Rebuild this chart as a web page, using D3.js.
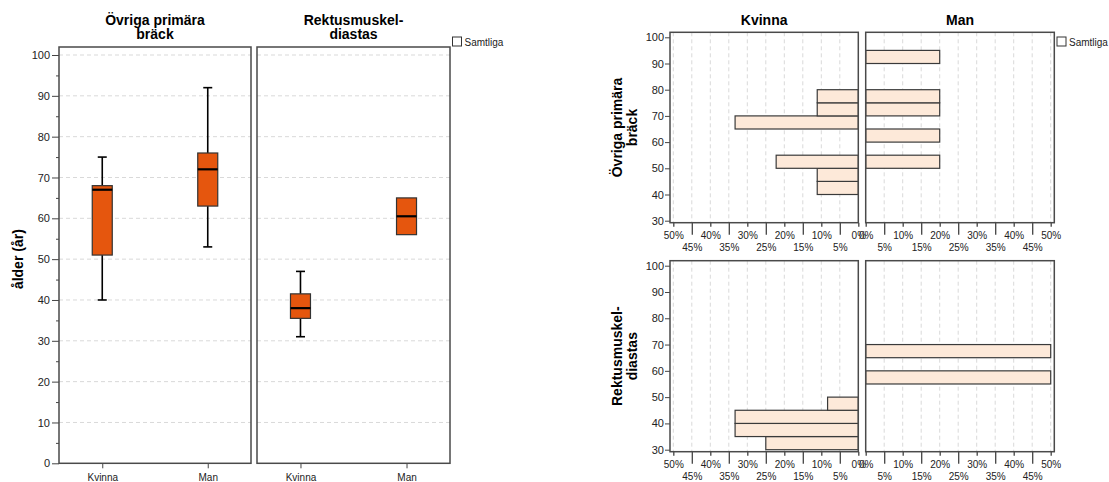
<!DOCTYPE html>
<html><head><meta charset="utf-8">
<script src="https://cdn.jsdelivr.net/npm/d3@7"></script>
<style>
body{margin:0;background:#fff;}
svg{font-family:Arial,"Liberation Sans",sans-serif;}
</style></head>
<body>
<svg id="c" width="1109" height="482"></svg>
<script>
// ---------- DATA ----------
const sexes = ["Kvinna", "Man"];
const groupTitles = [["Övriga primära", "bräck"], ["Rektusmuskel-", "diastas"]];
// Box plot statistics (ålder, år) per group, per sex [Kvinna, Man]
const whiskerLow  = [[40, 53], [31, 56]];
const q1          = [[51, 63], [35.5, 56]];
const medianAge   = [[67, 72], [38, 60.5]];
const q3          = [[68, 76], [41.5, 65]];
const whiskerHigh = [[75, 92], [47, 65]];
const boxTicks = [0,10,20,30,40,50,60,70,80,90,100];

// Histogram (5-year bins): bin start age and percentage
const binStartKvinna = [[40, 45, 50, 65, 70, 75], [30, 35, 40, 45]];
const pctKvinna      = [[11.1, 11.1, 22.2, 33.3, 11.1, 11.1], [25, 33.3, 33.3, 8.3]];
const binStartMan    = [[50, 60, 70, 75, 90], [55, 65]];
const pctMan         = [[20, 20, 20, 20, 20], [50, 50]];
const histAgeTicks = [30,40,50,60,70,80,90,100];
const pctTicks = [0,5,10,15,20,25,30,35,40,45,50];
const legendLabel = "Samtliga";

// ---------- STYLE ----------
const frameCol = "#4a4a4a", gridCol = "#d9d9d9";
const boxFill = "#e5560e", barFill = "#fde9d9";
const FF = "Arial,'Liberation Sans',sans-serif";

const svg = d3.select("#c");

// ================= LEFT: BOX PLOTS =================
const yL = d3.scaleLinear().domain([0, 100]).range([463.3, 55]);
const panelsL = [[59, 251], [257, 450]];
const frameTopL = 47, frameBotL = 463.3;

// y axis
const yAxisG = svg.append("g").attr("transform", `translate(59,0)`);
yAxisG.call(d3.axisLeft(yL).tickValues(boxTicks).tickSize(7).tickPadding(2).tickFormat(d3.format("d")));
yAxisG.select(".domain").remove();
yAxisG.selectAll("text").attr("font-size", 11).attr("fill", "#222").attr("font-family", FF);
yAxisG.selectAll("line").attr("stroke", "#444");
const yMinor = svg.append("g").attr("transform", `translate(59,0)`);
yMinor.call(d3.axisLeft(yL).tickValues(d3.range(5, 100, 10)).tickSize(3).tickFormat(""));
yMinor.select(".domain").remove();
yMinor.selectAll("line").attr("stroke", "#444");

svg.append("text")
  .attr("transform", `translate(23,${yL(50)}) rotate(-90)`)
  .attr("text-anchor", "middle").attr("font-size", 14).attr("font-weight", "bold")
  .text("ålder (år)");

panelsL.forEach((px, gi) => {
  const x = d3.scalePoint().domain(sexes).range(px).padding(0.41);
  const g = svg.append("g");
  // grid
  g.selectAll("line.grid").data(boxTicks.filter(d => d > 0)).join("line")
    .attr("x1", px[0]).attr("x2", px[1])
    .attr("y1", d => yL(d)).attr("y2", d => yL(d))
    .attr("stroke", gridCol).attr("stroke-dasharray", "4,3");
  // title
  groupTitles[gi].forEach((t, li) => {
    g.append("text").attr("x", (px[0] + px[1]) / 2).attr("y", 25 + li * 14)
      .attr("text-anchor", "middle").attr("font-size", 14).attr("font-weight", "bold").text(t);
  });
  // x axis
  const xa = g.append("g").attr("transform", `translate(0,${frameBotL})`)
    .call(d3.axisBottom(x).tickSize(5).tickPadding(6));
  xa.select(".domain").remove();
  xa.selectAll("text").attr("font-size", 10).attr("fill", "#222").attr("font-family", FF);
  xa.selectAll("line").attr("stroke", "#444");

  sexes.forEach((s, si) => {
    const cx = x(s), bw = 20, cw = 9;
    const wl = whiskerLow[gi][si], wh = whiskerHigh[gi][si];
    const a = q1[gi][si], b = q3[gi][si], m = medianAge[gi][si];
    if (wh > b) {
      g.append("line").attr("x1", cx).attr("x2", cx).attr("y1", yL(b)).attr("y2", yL(wh)).attr("stroke", "#000").attr("stroke-width", 1.6);
      g.append("line").attr("x1", cx - cw / 2).attr("x2", cx + cw / 2).attr("y1", yL(wh)).attr("y2", yL(wh)).attr("stroke", "#000").attr("stroke-width", 1.6);
    }
    if (wl < a) {
      g.append("line").attr("x1", cx).attr("x2", cx).attr("y1", yL(a)).attr("y2", yL(wl)).attr("stroke", "#000").attr("stroke-width", 1.6);
      g.append("line").attr("x1", cx - cw / 2).attr("x2", cx + cw / 2).attr("y1", yL(wl)).attr("y2", yL(wl)).attr("stroke", "#000").attr("stroke-width", 1.6);
    }
    g.append("rect").attr("x", cx - bw / 2).attr("y", yL(b)).attr("width", bw).attr("height", yL(a) - yL(b))
      .attr("fill", boxFill).attr("stroke", "#333").attr("stroke-width", 1.2);
    g.append("line").attr("x1", cx - bw / 2).attr("x2", cx + bw / 2).attr("y1", yL(m)).attr("y2", yL(m))
      .attr("stroke", "#000").attr("stroke-width", 2.2);
  });
  // frame
  g.append("rect").attr("x", px[0]).attr("y", frameTopL).attr("width", px[1] - px[0]).attr("height", frameBotL - frameTopL)
    .attr("fill", "none").attr("stroke", frameCol).attr("stroke-width", 1.5);
});

// legend
function legend(x, y) {
  svg.append("rect").attr("x", x).attr("y", y).attr("width", 9).attr("height", 9)
    .attr("fill", "#fff").attr("stroke", "#333").attr("stroke-width", 1);
  svg.append("text").attr("x", x + 12).attr("y", y + 8.5).attr("font-size", 10).attr("fill", "#222").text(legendLabel);
}
legend(452.5, 37);

// ================= RIGHT: HISTOGRAMS =================
const colsR = [[670, 858.3], [865.7, 1054.3]];
const rowsR = [[32.3, 222.7], [260.7, 451.7]];
const xK = d3.scaleLinear().domain([0, 50]).range([858.3, 673.3]);
const xM = d3.scaleLinear().domain([0, 50]).range([865.7, 1050.7]);
const xScales = [xK, xM];

sexes.forEach((s, ci) => {
  svg.append("text").attr("x", (colsR[ci][0] + colsR[ci][1]) / 2).attr("y", 25)
    .attr("text-anchor", "middle").attr("font-size", 14).attr("font-weight", "bold").text(s);
});

rowsR.forEach((ry, ri) => {
  const y = d3.scaleLinear().domain([30, 100]).range([ry[1] - 2, ry[0] + 5]);
  // row label
  groupTitles[ri].forEach((t, li) => {
    svg.append("text")
      .attr("transform", `translate(${622 + li * 15},${(ry[0] + ry[1]) / 2}) rotate(-90)`)
      .attr("text-anchor", "middle").attr("font-size", 14).attr("font-weight", "bold").text(t);
  });
  // y axis
  const ya = svg.append("g").attr("transform", `translate(670,0)`)
    .call(d3.axisLeft(y).tickValues(histAgeTicks).tickSize(5).tickPadding(1).tickFormat(d3.format("d")));
  ya.select(".domain").remove();
  ya.selectAll("text").attr("font-size", 11).attr("fill", "#222").attr("font-family", FF);
  ya.selectAll("line").attr("stroke", "#444");

  colsR.forEach((cx, ci) => {
    const x = xScales[ci];
    const g = svg.append("g");
    // grid
    g.selectAll("line.grid").data(pctTicks.filter(d => d > 0)).join("line")
      .attr("x1", d => x(d)).attr("x2", d => x(d)).attr("y1", ry[0]).attr("y2", ry[1])
      .attr("stroke", gridCol).attr("stroke-dasharray", "4,3");
    // bars
    const starts = ci === 0 ? binStartKvinna[ri] : binStartMan[ri];
    const pcts = ci === 0 ? pctKvinna[ri] : pctMan[ri];
    starts.forEach((b0, i) => {
      const x0 = Math.min(x(0), x(pcts[i])), x1 = Math.max(x(0), x(pcts[i]));
      g.append("rect").attr("x", x0).attr("y", y(b0 + 5)).attr("width", x1 - x0).attr("height", y(b0) - y(b0 + 5))
        .attr("fill", barFill).attr("stroke", "#3a3a3a").attr("stroke-width", 1.2);
    });
    // x axis: short ticks at 10s, long ticks at 5s, staggered labels
    const major = pctTicks.filter(d => d % 10 === 0), minor = pctTicks.filter(d => d % 10 !== 0);
    const xa1 = g.append("g").attr("transform", `translate(0,${ry[1]})`)
      .call(d3.axisBottom(x).tickValues(major).tickSize(4).tickPadding(5).tickFormat(d => d + "%"));
    const xa2 = g.append("g").attr("transform", `translate(0,${ry[1]})`)
      .call(d3.axisBottom(x).tickValues(minor).tickSize(12).tickPadding(9).tickFormat(d => d + "%"));
    [xa1, xa2].forEach(a => {
      a.select(".domain").remove();
      a.selectAll("text").attr("font-size", 10).attr("fill", "#222").attr("font-family", FF);
      a.selectAll("line").attr("stroke", "#444").attr("stroke-width", 1.3);
    });
    // frame
    g.append("rect").attr("x", cx[0]).attr("y", ry[0]).attr("width", cx[1] - cx[0]).attr("height", ry[1] - ry[0])
      .attr("fill", "none").attr("stroke", frameCol).attr("stroke-width", 1.5);
  });
});
legend(1057, 37);
</script>
</body></html>
